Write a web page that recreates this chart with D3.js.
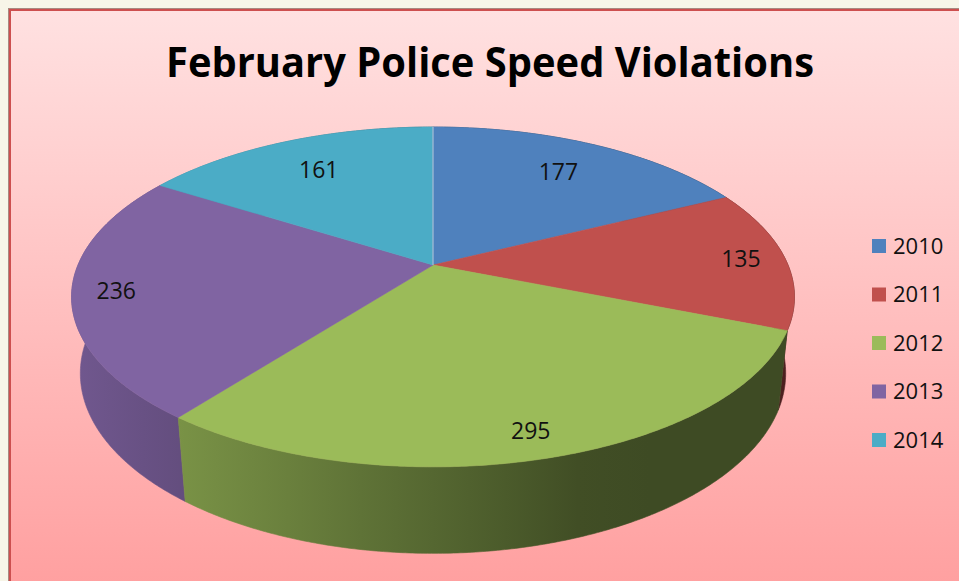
<!DOCTYPE html>
<html lang="en">
<head>
<meta charset="UTF-8">
<title>February Police Speed Violations</title>
<script src="https://d3js.org/d3.v7.min.js"></script>
<style>
  body { margin: 0; background: #f7f5e8; overflow: hidden; }
  text { font-family: "Open Sans", sans-serif; fill: #111; }
</style>
</head>
<body>
<div id="chart"></div>
<script>
// data
const years = ["2010", "2011", "2012", "2013", "2014"];
const violations = [177, 135, 295, 236, 161];
const colors = ["#4f81bd", "#c0504d", "#9bbb59", "#8064a2", "#4bacc6"];

const width = 959, height = 581;

// 3D pie view settings
const cx = 433, cy = 265, scale = 355;
const tilt = 27.5 * Math.PI / 180;
const persp = 0.188;      // cos(tilt) / camera distance
const depth = 0.245;      // thickness of the disc (radius = 1)

const svg = d3.select('#chart').append('svg')
    .attr('width', width)
    .attr('height', height);

const defs = svg.append('defs');

const bg = defs.append('linearGradient')
    .attr('id', 'bg')
    .attr('x1', 0).attr('y1', 0).attr('x2', 0).attr('y2', 1);
bg.append('stop').attr('offset', 0).attr('stop-color', '#ffe1e1');
bg.append('stop').attr('offset', 1).attr('stop-color', '#ff9f9f');

// frame
svg.append('rect').attr('x', 8).attr('y', 8).attr('width', width).attr('height', height).attr('fill', '#a88a80');
svg.append('rect').attr('x', 9).attr('y', 9).attr('width', width).attr('height', height).attr('fill', '#cd4f4f');
svg.append('rect').attr('x', 11).attr('y', 11).attr('width', width).attr('height', height).attr('fill', 'url(#bg)');

svg.append('text')
    .attr('x', 490)
    .attr('y', 77)
    .attr('text-anchor', 'middle')
    .attr('font-size', 42)
    .attr('font-weight', 'bold')
    .attr('textLength', 648)
    .attr('lengthAdjust', 'spacingAndGlyphs')
    .style('fill', '#000')
    .text('February Police Speed Violations');

// project a point of the disc (angle a clockwise from the back, radius r, height y)
function project(a, r, y) {
    const x3 = r * Math.sin(a);
    const z3 = -r * Math.cos(a);
    const Y = y * Math.cos(tilt) - z3 * Math.sin(tilt);
    const w = 1 - (y * Math.sin(tilt) + z3 * Math.cos(tilt)) * persp / Math.cos(tilt);
    return [cx + scale * x3 / w, cy - scale * Y / w];
}

function arcPoints(a0, a1, y) {
    const n = Math.max(2, Math.ceil(Math.abs(a1 - a0) / (Math.PI / 360)));
    return d3.range(n + 1).map(i => project(a0 + (a1 - a0) * i / n, 1, y));
}

const line = d3.line();

const pie = d3.pie().sort(null).value(d => d);
const arcs = pie(violations).map((d, i) => ({ ...d, year: years[i], color: colors[i] }));

// side wall shading: lighter where the wall faces left
function shade(nx) {
    return Math.max(0.4, Math.min(0.9, 0.55 - 0.33 * nx));
}

arcs.forEach((d, i) => {
    const g = defs.append('linearGradient')
        .attr('id', 'wall' + i)
        .attr('gradientUnits', 'userSpaceOnUse')
        .attr('x1', cx - 362).attr('y1', 0)
        .attr('x2', cx + 362).attr('y2', 0);
    const base = d3.rgb(d.color);
    d3.range(11).forEach(k => {
        const t = k / 10;
        const L = shade(2 * t - 1);
        g.append('stop')
            .attr('offset', t)
            .attr('stop-color', d3.rgb(base.r * L, base.g * L, base.b * L).formatHex());
    });
});

// walls, back to front
const walls = arcs.slice().sort((a, b) =>
    Math.cos((b.startAngle + b.endAngle) / 2) - Math.cos((a.startAngle + a.endAngle) / 2));

svg.append('g')
    .selectAll('path')
    .data(walls)
    .enter().append('path')
    .attr('d', d => {
        const top = arcPoints(d.startAngle, d.endAngle, 0);
        const bottom = arcPoints(d.endAngle, d.startAngle, -depth);
        return line(top.concat(bottom)) + 'Z';
    })
    .attr('fill', d => 'url(#wall' + d.index + ')')
    .attr('stroke', d => 'url(#wall' + d.index + ')')
    .attr('stroke-width', 0.6);

// top faces
svg.append('g')
    .selectAll('path')
    .data(arcs)
    .enter().append('path')
    .attr('d', d => line([project(0, 0, 0)].concat(arcPoints(d.startAngle, d.endAngle, 0))) + 'Z')
    .attr('fill', d => d.color)
    .attr('stroke', d => d.color)
    .attr('stroke-width', 0.6);

// edge-on cut face at the 12 o'clock seam
svg.append('path')
    .attr('d', line([project(0, 0, 0), project(0, 1, 0)]))
    .attr('stroke', '#a9b9d6')
    .attr('stroke-width', 1.2);

// value labels
svg.append('g')
    .selectAll('text')
    .data(arcs)
    .enter().append('text')
    .attr('transform', d => {
        const mid = (d.startAngle + d.endAngle) / 2;
        const r = 0.88 - 0.15 * Math.max(0, Math.cos(mid));
        return 'translate(' + project(mid, r, 0) + ')';
    })
    .attr('text-anchor', 'middle')
    .attr('dy', '0.36em')
    .attr('font-size', 23)
    .text(d => d.value);

// legend
const legend = svg.append('g')
    .selectAll('g')
    .data(years)
    .enter().append('g')
    .attr('transform', (d, i) => 'translate(872,' + (246 + i * 48.5) + ')');

legend.append('rect')
    .attr('x', 0).attr('y', -7)
    .attr('width', 14).attr('height', 14)
    .attr('fill', (d, i) => colors[i]);

legend.append('text')
    .attr('x', 21)
    .attr('dy', '0.36em')
    .attr('font-size', 22)
    .text(d => d);
</script>
</body>
</html>
